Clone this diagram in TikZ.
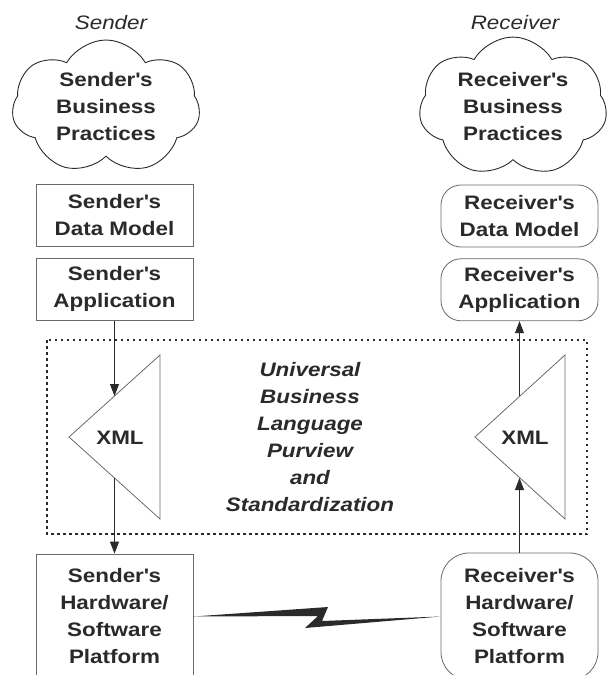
\documentclass[tikz,border=0pt]{standalone}
\usepackage{fontspec}
\setmainfont{Liberation Sans}[FakeStretch=1.15]
\usetikzlibrary{arrows.meta}
\usetikzlibrary{positioning}
\usetikzlibrary{shapes.symbols}
\usetikzlibrary{calc}
\definecolor{ink}{HTML}{2A2A2A}
\definecolor{rim}{HTML}{6A6A6A}
\newcommand{\ap}{\textquotesingle}
\tikzset{
lbl/.style = {text=ink, align=center, inner sep=0pt,
              font=\fontsize{19.5}{27}\selectfont\bfseries},
box/.style = {lbl, draw=rim, line width=0.8pt,
              minimum width=157pt, minimum height=62pt},
rbox/.style = {box, rounded corners=20pt},
puff/.style = {lbl, cloud, cloud puffs=7, cloud puff arc=120, aspect=1.4,
               draw=ink, line width=0.9pt, minimum width=188pt, minimum height=134pt},
flow/.style = {-{Triangle[length=12pt,width=9pt]}, line width=0.8pt, draw=ink},
tri/.style = {draw=rim, line width=0.8pt},
frame/.style = {draw=ink, line width=1.3pt, dash pattern=on 2.5pt off 3.5pt}
}

\begin{document}
\begin{tikzpicture}[x=1pt, y=-1pt]
        \useasboundingbox (0,0) rectangle (611,675);
        
        % sender side
        \node[lbl, font=\fontsize{19.5}{27}\selectfont\itshape] (stitle) at (111,23) {Sender};
        \node[puff] (sbus) at (106,107) {Sender\ap s\\Business\\Practices};
        \node[box] (sdat) at (114.5,215.5) {Sender\ap s\\Data Model};
        \node[box, below=11pt of sdat] (sapp) {Sender\ap s\\Application};
        \node[box, minimum height=125pt] (shw) at (114.5,616.5) {Sender\ap s\\Hardware/\\Software\\Platform};
        
        % receiver side
        \node[lbl, font=\fontsize{19.5}{27}\selectfont\itshape] (rtitle) at (515,23) {Receiver};
        \node[puff] (rbus) at (513,107) {Receiver\ap s\\Business\\Practices};
        \node[rbox] (rdat) at (519.5,216) {Receiver\ap s\\Data Model};
        \node[rbox, below=11pt of rdat] (rapp) {Receiver\ap s\\Application};
        \node[rbox, rounded corners=28pt, minimum height=127pt] (rhw) at (519.5,616.5) {Receiver\ap s\\Hardware/\\Software\\Platform};
        
        % purview
        \draw[frame] (47,340) rectangle (587,534);
        \node[lbl, font=\fontsize{19.5}{27}\selectfont\bfseries\itshape] (ubl) at (310,437)
             {Universal\\Business\\Language\\Purview\\and\\Standardization};
        
        % XML triangles
        \coordinate (tl) at (160,355);
        \coordinate (al) at (69,437);
        \coordinate (bl) at (160,519);
        \coordinate (tr) at (565,355);
        \coordinate (ar) at (475,437);
        \coordinate (br) at (565,519);
        \draw[tri] (tl) -- (al) -- (bl) -- cycle;
        \draw[tri] (tr) -- (ar) -- (br) -- cycle;
        \node[lbl] (xmll) at (120,438) {XML};
        \node[lbl] (xmlr) at (525,438) {XML};
        \coordinate (inl) at ($(tl)!0.5!(al)$);
        \coordinate (outl) at ($(bl)!0.5!(al)$);
        \coordinate (outr) at ($(tr)!0.5!(ar)$);
        \coordinate (inr) at ($(br)!0.5!(ar)$);
        
        \draw[flow] (sapp.south) -- (sapp.south |- inl);
        \draw[flow] (sapp.south |- outl) -- (shw.north);
        \draw[flow] (rhw.north) -- (rhw.north |- inr);
        \draw[flow] (rapp.south |- outr) -- (rapp.south);
        
        % link
        \fill[ink] (shw.east) -- (328,607) -- (322,621) -- (rhw.west)
                   -- (305,628) -- (318,616) -- cycle;
\end{tikzpicture}
\end{document}
